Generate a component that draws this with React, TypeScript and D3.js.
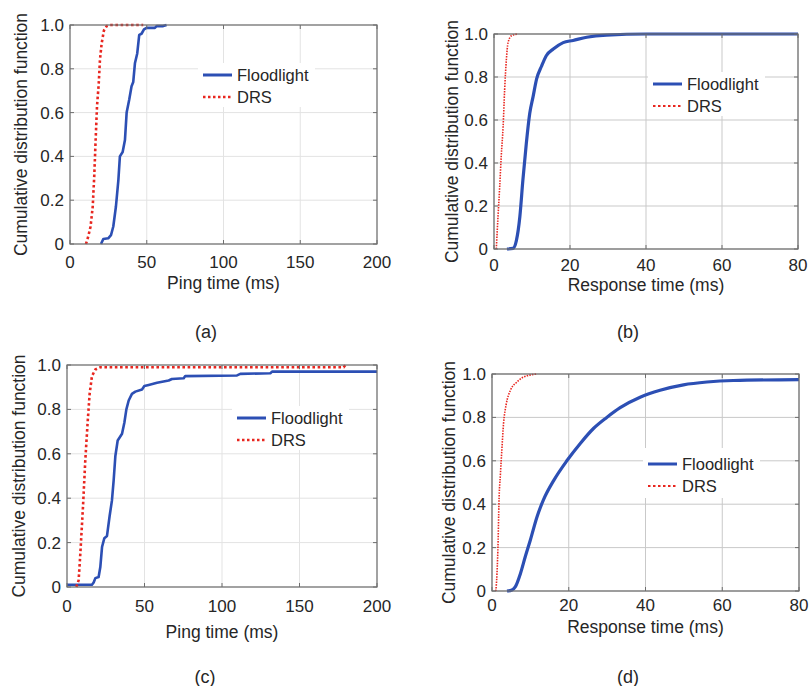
import React from 'react';
import * as d3 from 'd3';

type Pt = [number, number];

// CDF samples: [time (ms), cdf]
const pingFloodA: Pt[] = [
  [20.2, 0], [21.7, 0.023], [24.9, 0.026], [26.7, 0.04], [28.2, 0.08], [29.9, 0.17],
  [31.5, 0.29], [32.5, 0.4], [34.3, 0.42], [35.8, 0.475], [36.9, 0.6], [38.6, 0.66],
  [40.1, 0.72], [41.2, 0.74], [42.3, 0.825], [43.8, 0.87], [45.1, 0.955], [46.6, 0.96],
  [48.2, 0.98], [49.9, 0.987], [55.3, 0.987], [56.4, 0.995], [60.7, 0.995], [62.9, 1.0],
];
const pingDrsA: Pt[] = [
  [10.4, 0], [11.9, 0.035], [13.4, 0.08], [14.8, 0.17], [15.8, 0.31], [16.7, 0.475],
  [17.6, 0.63], [18.7, 0.73], [19.5, 0.84], [20.6, 0.915], [22.1, 0.975], [23.9, 0.995],
  [26.0, 1.0], [47.7, 1.0],
];
const respFloodB: Pt[] = [
  [3.4, 0], [5.0, 0.003], [5.9, 0.04], [6.8, 0.15], [7.6, 0.32], [8.5, 0.49], [9.4, 0.63],
  [10.3, 0.71], [11.2, 0.79], [12.5, 0.85], [13.8, 0.9], [15.6, 0.93], [18.2, 0.96],
  [20.8, 0.97], [24.4, 0.985], [29.6, 0.995], [40.2, 1.0], [80, 1.0],
];
const respDrsB: Pt[] = [
  [0.6, 0], [1.05, 0.15], [1.5, 0.29], [1.9, 0.43], [2.4, 0.57], [2.8, 0.74], [3.25, 0.88],
  [3.7, 0.96], [4.6, 0.992], [6.3, 1.0],
];
const pingFloodC: Pt[] = [
  [0, 0.01], [16.1, 0.01], [17.2, 0.02], [18.3, 0.04], [20.4, 0.045], [21.5, 0.09],
  [22.6, 0.18], [24.1, 0.22], [25.8, 0.23], [27.5, 0.32], [29.0, 0.39], [30.1, 0.48],
  [31.2, 0.59], [32.7, 0.66], [35.5, 0.69], [37.0, 0.74], [38.3, 0.8], [39.8, 0.84],
  [41.9, 0.87], [44.1, 0.88], [48.4, 0.89], [49.9, 0.905], [52.7, 0.91], [58.1, 0.92],
  [65.6, 0.93], [67.7, 0.937], [75.3, 0.94], [76.3, 0.95], [109.7, 0.953], [111.8, 0.96],
  [131.2, 0.963], [132.3, 0.97], [200, 0.97],
];
const pingDrsC: Pt[] = [
  [6.0, 0], [7.5, 0.03], [8.6, 0.15], [10.3, 0.36], [11.8, 0.57], [13.3, 0.74], [14.6, 0.87],
  [16.1, 0.95], [18.3, 0.98], [21.5, 0.99], [178.5, 0.99], [179.6, 1.0],
];
const respFloodD: Pt[] = [
  [3.9, 0], [5.2, 0.005], [6.1, 0.02], [7.4, 0.08], [8.7, 0.16], [10.0, 0.235], [11.7, 0.34],
  [13.4, 0.42], [16.1, 0.51], [19.5, 0.6], [23.0, 0.68], [26.5, 0.75], [29.9, 0.8],
  [33.4, 0.845], [38.6, 0.893], [43.8, 0.925], [49.9, 0.95], [56.0, 0.963], [62.9, 0.97],
  [80, 0.974],
];
const respDrsD: Pt[] = [
  [1.0, 0], [1.3, 0.08], [1.6, 0.235], [1.8, 0.4], [2.2, 0.54], [2.6, 0.66], [3.0, 0.77],
  [3.7, 0.86], [4.8, 0.925], [6.5, 0.963], [8.2, 0.986], [11.7, 1.0],
];

const pingTicks = [0, 50, 100, 150, 200];
const respTicks = [0, 20, 40, 60, 80];
const cdfTicks = [0, 0.2, 0.4, 0.6, 0.8, 1.0];
const seriesNames = ['Floodlight', 'DRS'];

const BLUE = '#2c4fb4';
const RED = '#e8261f';
const TEXT = '#262626';
const FONT = 'Arial, "Liberation Sans", sans-serif';

interface PanelProps {
  box: { x0: number; y0: number; x1: number; y1: number };
  xMax: number;
  xTicks: number[];
  flood: Pt[];
  drs: Pt[];
  xLabel: string;
  caption: string;
  captionPos: [number, number];
  yLabelX: number;
  tickY: number;
  xLabelY: number;
  legend: { x: number; y: number; w: number; h: number; lineX: number; row1: number };
  gridColor: string;
  thinDrs?: boolean;
}

const Panel = (p: PanelProps) => {
  const { box } = p;
  const x = d3.scaleLinear().domain([0, p.xMax]).range([box.x0, box.x1]);
  const y = d3.scaleLinear().domain([0, 1]).range([box.y1, box.y0]);
  const line = d3.line<Pt>().x(d => x(d[0])).y(d => y(d[1]));
  if (p.thinDrs) line.curve(d3.curveMonotoneX);
  const tk = 4;
  const lg = p.legend;
  return (
    <g fontFamily={FONT} fill={TEXT}>
      <rect x={box.x0} y={box.y0} width={box.x1 - box.x0} height={box.y1 - box.y0} fill="#fff" />
      {p.xTicks.map(t => (
        <line key={'gx' + t} x1={x(t)} x2={x(t)} y1={box.y0} y2={box.y1} stroke={p.gridColor} strokeWidth={1} />
      ))}
      {cdfTicks.map(t => (
        <line key={'gy' + t} x1={box.x0} x2={box.x1} y1={y(t)} y2={y(t)} stroke={p.gridColor} strokeWidth={1} />
      ))}
      <rect x={lg.x} y={lg.y} width={lg.w} height={lg.h} fill="#fff" />
      <path d={line(p.flood) ?? ''} fill="none" stroke={BLUE} strokeWidth={p.thinDrs ? 3.2 : 2.6} strokeLinejoin="round" />
      <path
        d={line(p.drs) ?? ''}
        fill="none"
        stroke={RED}
        strokeWidth={p.thinDrs ? 1.6 : 2.6}
        strokeDasharray={p.thinDrs ? '1.5,1.2' : '2.6,2.6'}
      />
      <rect x={box.x0} y={box.y0} width={box.x1 - box.x0} height={box.y1 - box.y0} fill="none" stroke="#6e6e6e" strokeWidth={1.2} />
      {p.xTicks.map(t => (
        <g key={'tx' + t}>
          <line x1={x(t)} x2={x(t)} y1={box.y1} y2={box.y1 - tk} stroke="#6e6e6e" />
          <line x1={x(t)} x2={x(t)} y1={box.y0} y2={box.y0 + tk} stroke="#6e6e6e" />
          <text x={x(t)} y={p.tickY} textAnchor="middle" fontSize={17}>{t}</text>
        </g>
      ))}
      {cdfTicks.map(t => (
        <g key={'ty' + t}>
          <line x1={box.x0} x2={box.x0 + tk} y1={y(t)} y2={y(t)} stroke="#6e6e6e" />
          <line x1={box.x1} x2={box.x1 - tk} y1={y(t)} y2={y(t)} stroke="#6e6e6e" />
          <text x={box.x0 - 6} y={y(t) + 6} textAnchor="end" fontSize={17}>{t === 0 ? '0' : t.toFixed(1)}</text>
        </g>
      ))}
      <text x={(box.x0 + box.x1) / 2} y={p.xLabelY} textAnchor="middle" fontSize={17.5}>{p.xLabel}</text>
      <text
        transform={`translate(${p.yLabelX},${(box.y0 + box.y1) / 2}) rotate(-90)`}
        textAnchor="middle"
        fontSize={17.5}
      >
        Cumulative distribution function
      </text>
      <line x1={lg.lineX} x2={lg.lineX + 29} y1={lg.row1} y2={lg.row1} stroke={BLUE} strokeWidth={3} />
      <line
        x1={lg.lineX}
        x2={lg.lineX + 29}
        y1={lg.row1 + 22}
        y2={lg.row1 + 22}
        stroke={RED}
        strokeWidth={p.thinDrs ? 2 : 2.6}
        strokeDasharray="2.5,2.5"
      />
      <text x={lg.lineX + 34} y={lg.row1 + 6} fontSize={16.5}>{seriesNames[0]}</text>
      <text x={lg.lineX + 34} y={lg.row1 + 28} fontSize={16.5}>{seriesNames[1]}</text>
      <text x={p.captionPos[0]} y={p.captionPos[1]} textAnchor="middle" fontSize={18}>{p.caption}</text>
    </g>
  );
};

export default function App() {
  return (
    <svg width={810} height={686} style={{ position: 'absolute', left: 0, top: 0 }}>
      <rect width={810} height={686} fill="#fff" />
      <Panel
        box={{ x0: 70, y0: 25, x1: 377, y1: 244 }}
        xMax={200}
        xTicks={pingTicks}
        flood={pingFloodA}
        drs={pingDrsA}
        xLabel="Ping time (ms)"
        caption="(a)"
        captionPos={[206, 338]}
        yLabelX={27}
        tickY={268}
        xLabelY={289}
        legend={{ x: 198, y: 63, w: 117, h: 44, lineX: 203, row1: 75 }}
        gridColor="#e3e3e3"
      />
      <Panel
        box={{ x0: 494, y0: 34, x1: 798, y1: 249 }}
        xMax={80}
        xTicks={respTicks}
        flood={respFloodB}
        drs={respDrsB}
        xLabel="Response time (ms)"
        caption="(b)"
        captionPos={[628, 338]}
        yLabelX={458}
        tickY={271}
        xLabelY={291}
        legend={{ x: 648, y: 72, w: 117, h: 44, lineX: 653, row1: 84 }}
        gridColor="#c9c9c9"
        thinDrs
      />
      <Panel
        box={{ x0: 67, y0: 365, x1: 377, y1: 587 }}
        xMax={200}
        xTicks={pingTicks}
        flood={pingFloodC}
        drs={pingDrsC}
        xLabel="Ping time (ms)"
        caption="(c)"
        captionPos={[205, 683]}
        yLabelX={25}
        tickY={612}
        xLabelY={638}
        legend={{ x: 232, y: 406, w: 117, h: 44, lineX: 237, row1: 418 }}
        gridColor="#e3e3e3"
      />
      <Panel
        box={{ x0: 492, y0: 374, x1: 799, y1: 591 }}
        xMax={80}
        xTicks={respTicks}
        flood={respFloodD}
        drs={respDrsD}
        xLabel="Response time (ms)"
        caption="(d)"
        captionPos={[628, 683]}
        yLabelX={455}
        tickY={611}
        xLabelY={633}
        legend={{ x: 643, y: 448, w: 117, h: 50, lineX: 648, row1: 464 }}
        gridColor="#c9c9c9"
        thinDrs
      />
    </svg>
  );
}
